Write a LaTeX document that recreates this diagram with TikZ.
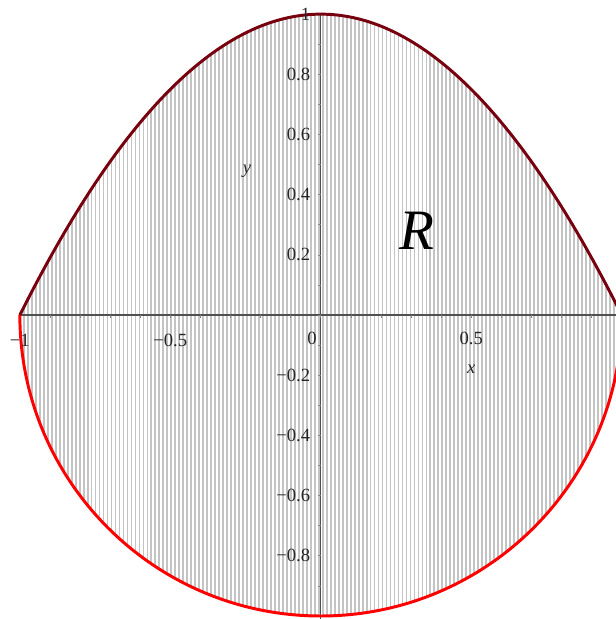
\documentclass[tikz,border=0pt]{standalone}
\usepackage{fontspec}
\setmainfont{Liberation Serif}
\usetikzlibrary{positioning}
\definecolor{topRed}{HTML}{78000E}
\definecolor{botRed}{HTML}{FF0000}
\definecolor{hatchGr}{HTML}{C4C4C4}
\definecolor{axisGr}{HTML}{505050}
\def\hstep{0.01325}
\def\tk{0.01}

\begin{document}
\begin{tikzpicture}[
  x=5cm, y=5cm,
  ticklab/.style={font=\fontsize{8.8}{10}\selectfont, text=black!85, inner sep=0pt},
  axlab/.style={font=\fontsize{8.8}{10}\selectfont\itshape, text=black!85, inner sep=0pt},
  curve/.style={line width=1.4pt, line join=round},
  axisline/.style={draw=axisGr, line width=0.6pt},
  tickline/.style={draw=axisGr!70, line width=0.35pt},
  hatchline/.style={draw=hatchGr, line width=0.85pt},
]
\useasboundingbox (-1.066,-1.010) rectangle (0.980,1.047);

% =====================================================================
% REGION R : vertical hatching between the two curves
% =====================================================================
\begin{scope}
  \clip plot[domain=-1:1, samples=120] (\x,{1-\x*\x})
        -- (1,0) arc[start angle=0, end angle=-180, radius=1] -- cycle;
  \foreach \i in {0,...,151}
    \draw[hatchline] (-1+\i*\hstep,-1.02) -- (-1+\i*\hstep,1.02);
\end{scope}

% =====================================================================
% AXES
% =====================================================================
\coordinate (xmin) at (-1,0);
\coordinate (xmax) at (1,0);
\coordinate (ymin) at (0,-1.02);
\coordinate (ymax) at (0,1);
\draw[axisline] (xmin) -- (xmax);
\draw[axisline] (ymin) -- (ymax);
\foreach \k in {-9,...,9}
  \draw[tickline] (-\tk,\k/10) -- (0,\k/10);
\foreach \k in {-9,...,9}
  \draw[tickline] (\k/10,0) -- (\k/10,-\tk);

% =====================================================================
% CURVES
% =====================================================================
\draw[curve, topRed] plot[domain=-1:1, samples=120] (\x,{1-\x*\x});
\draw[curve, botRed] (1,0) arc[start angle=0, end angle=-180, radius=1];

% =====================================================================
% LABELS
% =====================================================================
\foreach \v/\t/\n in {1/1/a, 0.8/0.8/b, 0.6/0.6/c, 0.4/0.4/d, 0.2/0.2/e,
                      -0.2/−0.2/f, -0.4/−0.4/g, -0.6/−0.6/h, -0.8/−0.8/i}
  \node[ticklab, anchor=east] (ylab\n) at (-0.034,\v) {\t};
\node[ticklab] (xlabA) at (-1,-0.083) {−1};
\node[ticklab] (xlabB) at (-0.5,-0.083) {−0.5};
\node[ticklab, anchor=east] (xlabC) at (-0.012,-0.077) {0};
\node[ticklab] (xlabD) at (0.5,-0.077) {0.5};
\node[axlab] (xname) at (0.5,-0.18) {x};
\node[axlab] (yname) at (-0.245,0.478) {y};
\node[font=\fontsize{27}{27}\selectfont\itshape, inner sep=0pt] (rname) at (0.318,0.279) {R};

\end{tikzpicture}
\end{document}
